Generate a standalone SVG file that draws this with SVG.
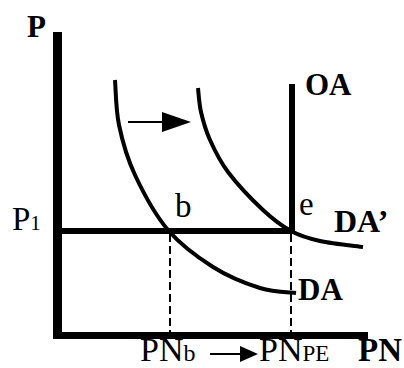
<svg xmlns="http://www.w3.org/2000/svg" width="404" height="368" viewBox="0 0 404 368">
<style>
.t{font-family:"Liberation Serif","Times New Roman",serif;fill:#000}
.b{font-weight:bold}
.ax{stroke:#000;fill:none;stroke-linecap:butt}
.cv{stroke:#000;fill:none;stroke-width:4;stroke-linecap:butt;stroke-linejoin:round}
.dash{stroke:#000;stroke-width:2;stroke-dasharray:8 4;fill:none}
</style>
<rect width="404" height="368" fill="#fff"/>
<g id="connectors">
<line class="dash" x1="170" y1="234" x2="170" y2="332"/>
<line class="dash" x1="291" y1="234" x2="291" y2="332"/>
<line class="ax" x1="128" y1="122" x2="165" y2="122" stroke-width="2"/>
<polygon points="162,112 191,122 162,132" fill="#000"/>
<line class="ax" x1="210" y1="354" x2="243" y2="354" stroke-width="2"/>
<polygon points="240,346 258,354 240,362" fill="#000"/>
</g>
<g id="axes">
<line class="ax" x1="57.5" y1="32" x2="57.5" y2="339" stroke-width="9"/>
<line class="ax" x1="53" y1="335.5" x2="368" y2="335.5" stroke-width="7"/>
</g>
<g id="P1-line"><line class="ax" x1="62" y1="231" x2="292" y2="231" stroke-width="6"/></g>
<g id="OA"><line class="ax" x1="292" y1="84" x2="292" y2="234" stroke-width="6"/>
<text class="t b" x="305" y="95" font-size="31">OA</text></g>
<g id="DA"><path class="cv" d="M115,80 C115.7,87.5 115.7,109.2 119,125 C122.3,140.8 126.8,157.5 135,175 C143.2,192.5 155,214.7 168,230 C181,245.3 197.7,257.3 213,267 C228.3,276.7 246.2,283.7 260,288 C273.8,292.3 290,292.2 296,293"/>
<text class="t b" x="298" y="300" font-size="31">DA</text></g>
<g id="DA2"><path class="cv" d="M198,88 C198.5,92 199,103.3 201,112 C203,120.7 205.5,130 210,140 C214.5,150 219.2,160.3 228,172 C236.8,183.7 252.5,200.2 263,210 C273.5,219.8 281.5,225.8 291,231 C300.5,236.2 308,238.3 320,241 C332,243.7 355.8,246 363,247"/>
<text class="t b" x="334" y="232" font-size="32">DA’</text></g>
<g id="labels">
<text class="t b" x="27" y="37" font-size="31">P</text>
<text class="t" x="12" y="230" font-size="33">P<tspan font-size="21">1</tspan></text>
<text class="t" x="175" y="217" font-size="33">b</text>
<text class="t" x="299" y="215" font-size="33">e</text>
<text class="t" x="140" y="361" font-size="34">PN<tspan font-size="24">b</tspan></text>
<text class="t" x="259" y="361" font-size="34">PN<tspan font-size="23">PE</tspan></text>
<text class="t b" x="358" y="361" font-size="33">PN</text>
</g>
</svg>
